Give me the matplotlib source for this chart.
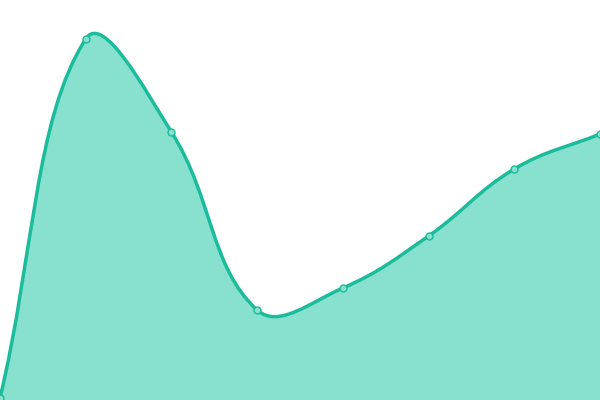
import numpy as np
import matplotlib.pyplot as plt
from matplotlib.path import Path
from matplotlib.patches import PathPatch

# values (chart has no visible axes)
labels = ["A", "B", "C", "D", "E", "F", "G", "H"]
values = [2, 361, 268, 90, 112, 164, 231, 266]

LINE = "#1abc9c"
FILL = "#88e0cf"
TENSION = 0.4


def spline_controls(xs, ys, t):
    # cardinal-style control points, like chart.js splineCurve
    n = len(xs)
    cps = []
    for i in range(n):
        p0 = np.array([xs[max(i - 1, 0)], ys[max(i - 1, 0)]])
        p1 = np.array([xs[i], ys[i]])
        p2 = np.array([xs[min(i + 1, n - 1)], ys[min(i + 1, n - 1)]])
        d01 = np.hypot(*(p1 - p0))
        d12 = np.hypot(*(p2 - p1))
        tot = d01 + d12
        s01 = d01 / tot if tot else 0
        s12 = d12 / tot if tot else 0
        prev = p1 - t * s01 * (p2 - p0)
        nxt = p1 + t * s12 * (p2 - p0)
        prev[1] = min(max(prev[1], 0), 400)
        nxt[1] = min(max(nxt[1], 0), 400)
        cps.append((prev, nxt))
    return cps


fig = plt.figure(figsize=(6, 4), dpi=100)
ax = fig.add_axes([0, 0, 1, 1])
ax.set_xlim(0, 600)
ax.set_ylim(0, 400)
ax.axis("off")

xs = np.linspace(0, 600, len(values))
ys = np.array(values, dtype=float)
cps = spline_controls(xs, ys, TENSION)

verts = [(xs[0], ys[0])]
codes = [Path.MOVETO]
for i in range(len(xs) - 1):
    verts += [tuple(cps[i][1]), tuple(cps[i + 1][0]), (xs[i + 1], ys[i + 1])]
    codes += [Path.CURVE4] * 3

line_path = Path(verts, codes)
fill_path = Path(verts + [(xs[-1], 0), (xs[0], 0), (xs[0], ys[0])],
                 codes + [Path.LINETO, Path.LINETO, Path.CLOSEPOLY])

ax.add_patch(PathPatch(fill_path, facecolor=FILL, edgecolor="none", zorder=1))
ax.add_patch(PathPatch(line_path, facecolor="none", edgecolor=LINE, lw=2.5, zorder=2))
ax.plot(xs, ys, "o", ms=5, mfc=FILL, mec=LINE, mew=1, zorder=3, clip_on=False)

fig.savefig("out.png", dpi=100)
